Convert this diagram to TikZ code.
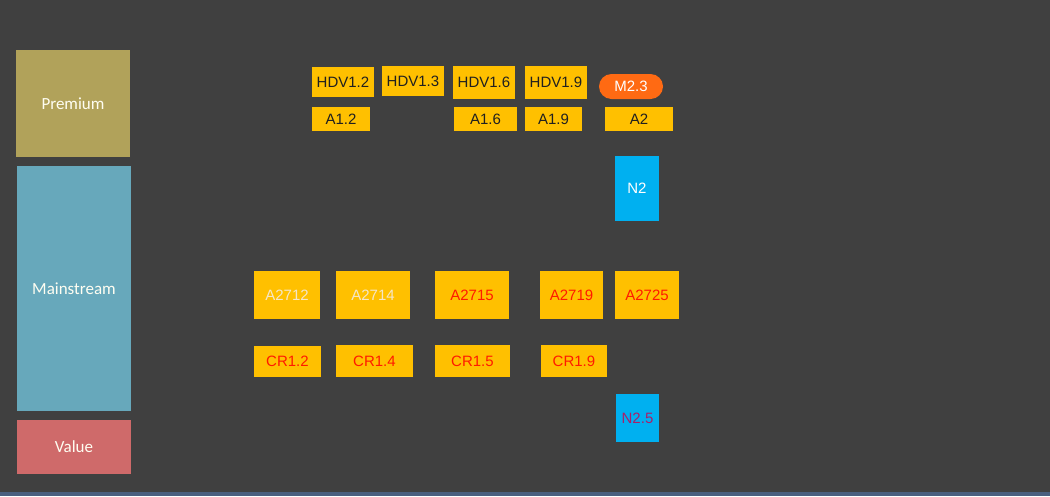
\documentclass[tikz,border=0pt]{standalone}
\usepackage{fontspec}
\setmainfont{Liberation Sans}
\newfontfamily\calfont{Carlito}
\definecolor{bg}{HTML}{404040}
\definecolor{strip}{HTML}{4A5F7F}
\definecolor{gold}{HTML}{FFC000}
\definecolor{prem}{HTML}{B1A25A}
\definecolor{mainc}{HTML}{67A8BB}
\definecolor{valc}{HTML}{CF6A6A}
\definecolor{cyanb}{HTML}{00B0F0}
\definecolor{orng}{HTML}{FF6A13}
\definecolor{redt}{HTML}{FF1A00}
\definecolor{darkt}{HTML}{202020}
\definecolor{lightt}{HTML}{F5E6C8}
\definecolor{purt}{HTML}{A8206A}
\begin{document}
\begin{tikzpicture}[x=1pt,y=-1pt,
  bx/.style={inner sep=0pt, outer sep=0pt, font=\fontsize{15}{18}\selectfont},
  gbox/.style={bx, fill=gold, text=darkt},
  gred/.style={bx, fill=gold, text=redt},
  glight/.style={bx, fill=gold, text=lightt},
  cbox/.style={bx, fill=cyanb, text=white},
  seg/.style={inner sep=0pt, outer sep=0pt, text=white!95!yellow, font=\calfont\fontsize{17}{20}\selectfont}]
\fill[bg] (0,0) rectangle (1050,496);
\fill[strip] (0,492) rectangle (1050,496);
\useasboundingbox (0,0) rectangle (1050,496);
% segments
\node[seg, fill=prem, minimum width=114pt, minimum height=107pt] (premium) at (73,103.5) {Premium};
\node[seg, fill=mainc, minimum width=114pt, minimum height=245pt] (mainstream) at (74,288.5) {Mainstream};
\node[seg, fill=valc, minimum width=114pt, minimum height=54pt] (value) at (74,447) {Value};
% top row
\node[gbox, minimum width=62pt, minimum height=30pt] (hdv12) at (343,82) {HDV1.2};
\node[gbox, minimum width=62pt, minimum height=30pt] (hdv13) at (413,81) {HDV1.3};
\node[gbox, minimum width=62pt, minimum height=33pt] (hdv16) at (484,82.5) {HDV1.6};
\node[gbox, minimum width=62pt, minimum height=33pt] (hdv19) at (556,82.5) {HDV1.9};
\node[bx, fill=orng, text=white, rounded corners=12.5pt, minimum width=64pt, minimum height=25pt] (m23) at (631,86.5) {M2.3};
% second row
\node[gbox, minimum width=58pt, minimum height=24pt] (a12) at (341,119) {A1.2};
\node[gbox, minimum width=63pt, minimum height=24pt] (a16) at (485.5,119) {A1.6};
\node[gbox, minimum width=57pt, minimum height=24pt] (a19) at (553.5,119) {A1.9};
\node[gbox, minimum width=68pt, minimum height=24pt] (a2) at (639,119) {A2};
\node[cbox, minimum width=44pt, minimum height=65pt] (n2) at (637,188.5) {N2};
% mainstream row
\node[glight, minimum width=66pt, minimum height=48pt] (a2712) at (287,295) {A2712};
\node[glight, minimum width=74pt, minimum height=48pt] (a2714) at (373,295) {A2714};
\node[gred, minimum width=74pt, minimum height=48pt] (a2715) at (472,295) {A2715};
\node[gred, minimum width=63pt, minimum height=48pt] (a2719) at (571.5,295) {A2719};
\node[gred, minimum width=64pt, minimum height=48pt] (a2725) at (647,295) {A2725};
% CR row
\node[gred, minimum width=67pt, minimum height=31pt] (cr12) at (287.5,361.5) {CR1.2};
\node[gred, minimum width=77pt, minimum height=32pt] (cr14) at (374.5,361) {CR1.4};
\node[gred, minimum width=75pt, minimum height=32pt] (cr15) at (472.5,361) {CR1.5};
\node[gred, minimum width=66pt, minimum height=32pt] (cr19) at (574,361) {CR1.9};
\node[bx, fill=cyanb, text=purt, minimum width=43pt, minimum height=48pt] (n25) at (637.5,418) {N2.5};
\end{tikzpicture}
\end{document}
